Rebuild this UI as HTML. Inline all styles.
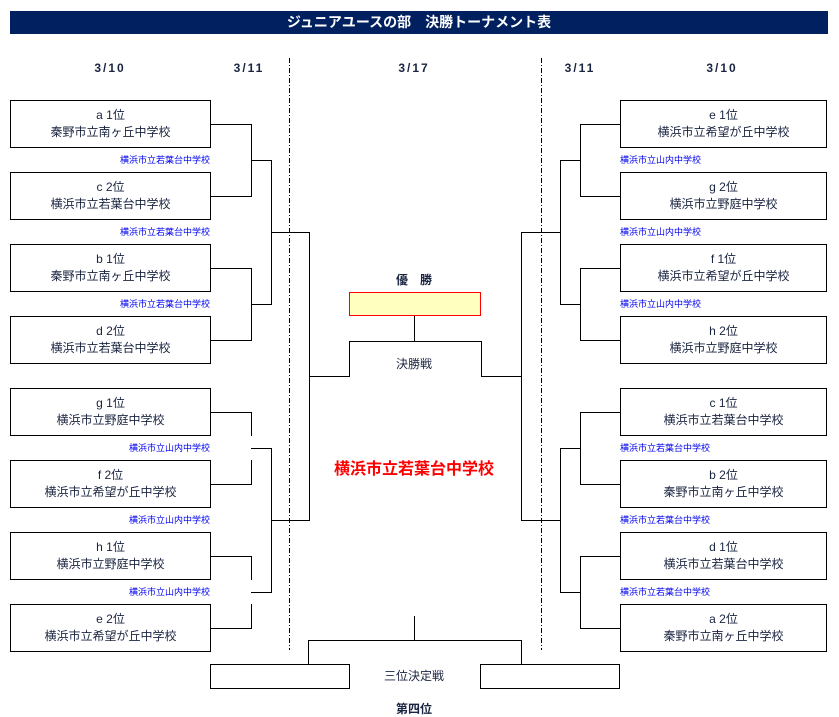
<!DOCTYPE html>
<html><head><meta charset="utf-8"><style>
body{margin:0;width:839px;height:717px;background:#fff;position:relative;overflow:hidden;font-family:"Liberation Sans","Noto Sans CJK JP",sans-serif;color:#1a2440}
.t{position:absolute;white-space:nowrap;transform:translateX(-50%);font-size:12px;line-height:14px}
.d{letter-spacing:2px}
.b{position:absolute;width:201px;height:48px;border:1px solid #000;text-align:center;font-size:12px;line-height:17px;box-sizing:border-box;padding-top:6px}
.l{position:absolute;font-size:9px;color:#0000ee;line-height:11px;white-space:nowrap}
.r{right:629px}
</style></head><body>
<div style="position:absolute;left:10px;top:11px;width:818px;height:23px;background:#002060;color:#fff;font-weight:bold;font-size:14px;line-height:23px;text-align:center">ジュニアユースの部　決勝トーナメント表</div>
<div class="t d" style="left:110px;top:61px;font-weight:bold">3/10</div>
<div class="t d" style="left:249px;top:61px;font-weight:bold">3/11</div>
<div class="t d" style="left:414px;top:61px;font-weight:bold">3/17</div>
<div class="t d" style="left:580px;top:61px;font-weight:bold">3/11</div>
<div class="t d" style="left:722px;top:61px;font-weight:bold">3/10</div>
<svg width="839" height="717" style="position:absolute;left:0;top:0" fill="none" stroke="#000" stroke-width="1">
<g stroke-dasharray="5,2,1,2"><path d="M289.5 58V650M541.5 58V650"/></g>
<path d="M211 124.5H251.5V196.5H211M251 160.5H271.5V304.5H251M211 268.5H251.5V340.5H211M271 232.5H309.5V520.5H271M309 376.5H349.5V341.5H481.5V376.5H521"/>
<path d="M211 412.5H251.5V436M251.5 460V484.5H211M251 448.5H271.5V592.5H251M211 556.5H251.5V580M251.5 604V628.5H211"/>
<path d="M620 124.5H580.5V196.5H620M580 160.5H560.5V304.5H580M620 268.5H580.5V340.5H620M560 232.5H521.5V520.5H560"/>
<path d="M620 412.5H580.5V484.5H620M580 448.5H560.5V592.5H580M620 556.5H580.5V628.5H620M560 520.5H521"/>
<path d="M414.5 316V341M414.5 616V640.5M308.5 664V640.5H521.5V664"/>
<rect x="210.5" y="664.5" width="139" height="24"/><rect x="480.5" y="664.5" width="139" height="24"/>
<rect x="349.5" y="292.5" width="131" height="23" fill="#ffffc0" stroke="#ff0000"/>
</svg>
<div class="b" style="left:10px;top:100px">a 1位<br>秦野市立南ヶ丘中学校</div>
<div class="b" style="left:10px;top:172px">c 2位<br>横浜市立若葉台中学校</div>
<div class="b" style="left:10px;top:244px">b 1位<br>秦野市立南ヶ丘中学校</div>
<div class="b" style="left:10px;top:316px">d 2位<br>横浜市立若葉台中学校</div>
<div class="b" style="left:10px;top:388px">g 1位<br>横浜市立野庭中学校</div>
<div class="b" style="left:10px;top:460px">f 2位<br>横浜市立希望が丘中学校</div>
<div class="b" style="left:10px;top:532px">h 1位<br>横浜市立野庭中学校</div>
<div class="b" style="left:10px;top:604px">e 2位<br>横浜市立希望が丘中学校</div>
<div class="b" style="left:620px;top:100px;width:207px">e 1位<br>横浜市立希望が丘中学校</div>
<div class="b" style="left:620px;top:172px;width:207px">g 2位<br>横浜市立野庭中学校</div>
<div class="b" style="left:620px;top:244px;width:207px">f 1位<br>横浜市立希望が丘中学校</div>
<div class="b" style="left:620px;top:316px;width:207px">h 2位<br>横浜市立野庭中学校</div>
<div class="b" style="left:620px;top:388px;width:207px">c 1位<br>横浜市立若葉台中学校</div>
<div class="b" style="left:620px;top:460px;width:207px">b 2位<br>秦野市立南ヶ丘中学校</div>
<div class="b" style="left:620px;top:532px;width:207px">d 1位<br>横浜市立若葉台中学校</div>
<div class="b" style="left:620px;top:604px;width:207px">a 2位<br>秦野市立南ヶ丘中学校</div>
<div class="l r" style="top:155px">横浜市立若葉台中学校</div>
<div class="l r" style="top:227px">横浜市立若葉台中学校</div>
<div class="l r" style="top:299px">横浜市立若葉台中学校</div>
<div class="l r" style="top:443px">横浜市立山内中学校</div>
<div class="l r" style="top:515px">横浜市立山内中学校</div>
<div class="l r" style="top:587px">横浜市立山内中学校</div>
<div class="l" style="left:620px;top:155px">横浜市立山内中学校</div>
<div class="l" style="left:620px;top:227px">横浜市立山内中学校</div>
<div class="l" style="left:620px;top:299px">横浜市立山内中学校</div>
<div class="l" style="left:620px;top:443px">横浜市立若葉台中学校</div>
<div class="l" style="left:620px;top:515px">横浜市立若葉台中学校</div>
<div class="l" style="left:620px;top:587px">横浜市立若葉台中学校</div>
<div class="t" style="left:414px;top:273px;font-weight:bold">優　勝</div>
<div class="t" style="left:414px;top:357px">決勝戦</div>
<div class="t" style="left:414px;top:461px;color:#ff0000;font-weight:bold;font-size:16px;line-height:18px">横浜市立若葉台中学校</div>
<div class="t" style="left:414px;top:669px">三位決定戦</div>
<div class="t" style="left:414px;top:702px;font-weight:bold">第四位</div>
</body></html>
